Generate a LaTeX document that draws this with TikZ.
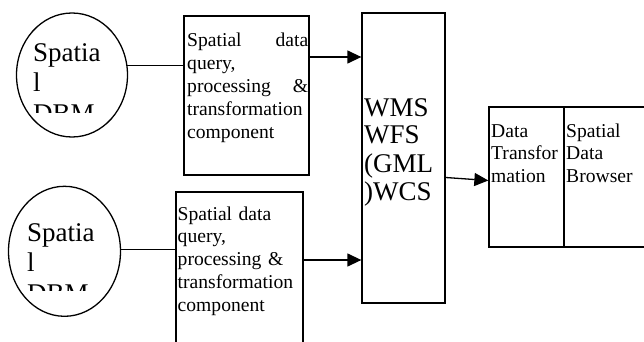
\documentclass[tikz,border=0pt]{standalone}
\usepackage{fontspec}
\setmainfont{Liberation Serif}
\usetikzlibrary{arrows.meta,shapes.geometric}

\tikzset{
  stroke/.style={line width=1.3pt, black},
  dbnode/.style={ellipse, stroke, draw, inner sep=0pt},
  boxnode/.style={rectangle, stroke, draw, inner sep=0pt},
  txt/.style={inner sep=0pt, anchor=base west, align=left},
  small/.style={font=\fontsize{19.6pt}{22.8pt}\selectfont},
  big/.style={font=\fontsize{27pt}{30.5pt}\selectfont},
  svc/.style={font=\fontsize{27pt}{28pt}\selectfont},
  link/.style={stroke},
  flow/.style={stroke, -{Triangle[length=14pt,width=13pt]}},
}

\begin{document}
\begin{tikzpicture}[x=1pt, y=-1pt]
\useasboundingbox (0,0) rectangle (644,342);

% spatial databases
\node[dbnode, minimum width=111pt, minimum height=124pt] (db1) at (72,75) {};
\node[dbnode, minimum width=112pt, minimum height=130pt] (db2) at (64.5,251.3) {};

% query / processing components
\node[boxnode, minimum width=125pt, minimum height=159pt] (q1) at (246.5,95.5) {};
\node[boxnode, minimum width=127pt, minimum height=168pt] (q2) at (239.5,276) {};

% web services
\node[boxnode, minimum width=83pt, minimum height=290pt] (wms) at (403.5,158) {};

% client side
\node[boxnode, minimum width=75pt, minimum height=140pt] (trans) at (526.5,177) {};
\node[boxnode, minimum width=86pt, minimum height=140pt] (browser) at (607,177) {};

% database labels, cut off at the bottom
\begin{scope}
  \clip (20,30) rectangle (128,112);
  \node[txt, big, text width=90pt] (db1text) at (33,61.5) {Spatia\\l\\DBM};
\end{scope}
\begin{scope}
  \clip (12,205) rectangle (121,290);
  \node[txt, big, text width=90pt] (db2text) at (27,241) {Spatia\\l\\DBM};
\end{scope}

% component labels
\node[txt, small, text width=121pt] (q1text) at (187,47)
  {Spatial\hfill data\\query,\\processing\hfill\&\\transformation\\component};
\node[txt, small, text width=124pt] (q2text) at (177.5,220)
  {Spatial data\\query,\\processing \&\\transformation\\component};

\node[txt, svc, text width=80pt] (wmstext) at (364,116) {WMS\\WFS\\(GML\\)WCS};

\node[txt, small, text width=72pt] (transtext) at (491,137) {Data\\Transfor\\mation};
\node[txt, small, text width=76pt] (browsertext) at (566,137) {Spatial\\Data\\Browser};

% connectors
\draw[link] (db1.10.3) -- (db1.10.3 -| q1.west);
\draw[link] (db2.2.4) -- (db2.2.4 -| q2.west);
\draw[flow] ([yshift=38.5pt]q1.east) -- ([yshift=38.5pt]q1.east -| wms.west);
\draw[flow] ([yshift=16pt]q2.east) -- ([yshift=16pt]q2.east -| wms.west);
\draw[flow] ([yshift=-19.5pt]wms.east) -- ([yshift=-3.5pt]trans.west);
\end{tikzpicture}
\end{document}
